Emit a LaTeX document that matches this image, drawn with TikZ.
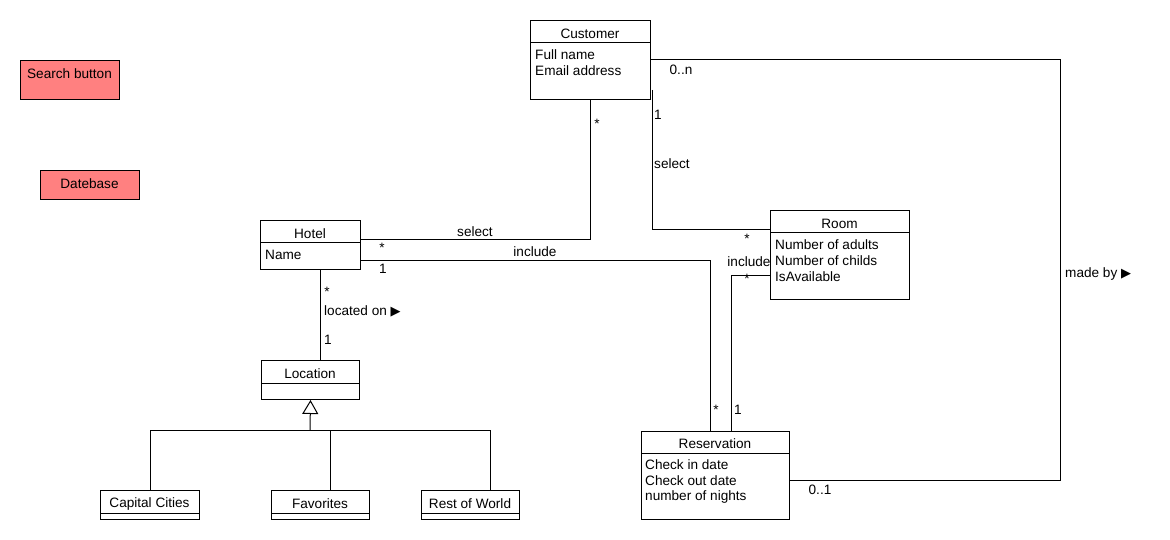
\documentclass[tikz,border=0pt]{standalone}
\usepackage{fontspec}
\setmainfont{Liberation Sans}
\newfontfamily\symf{DejaVu Sans}
\usetikzlibrary{arrows.meta,calc}
\definecolor{btnfill}{HTML}{FF8080}
\begin{document}
\begin{tikzpicture}[x=1pt,y=-1pt,
  every node/.style={font=\fontsize{13.6}{16}\selectfont, inner sep=0pt},
  cls/.style={draw, line width=1pt, anchor=north west, inner sep=0pt},
  btn/.style={draw, line width=1pt, fill=btnfill, anchor=north west, inner sep=0pt},
  attr/.style={anchor=west},
  conn/.style={line width=1pt},
  genarrow/.style={line width=1pt, -{Triangle[open,length=14pt,width=16pt]}}
]
\useasboundingbox (0,0) rectangle (1170,540);

% buttons
\node[btn, minimum width=99pt, minimum height=39pt] (search) at (20,60) {};
\node at (69.5,74) {Search button};
\node[btn, minimum width=99pt, minimum height=29pt] (db) at (40,170) {};
\node at (89.5,184) {Datebase};

% Customer
\node[cls, minimum width=120pt, minimum height=79pt] (cust) at (530,20) {};
\draw[line width=1pt] (530,43) -- (650,43);
\node at (590,34) {Customer};
\node[attr] at (535,55) {Full name};
\node[attr] at (535,71) {Email address};

% Hotel
\node[cls, minimum width=100pt, minimum height=49pt] (hotel) at (260,220) {};
\draw[line width=1pt] (260,243) -- (360,243);
\node at (310,234) {Hotel};
\node[attr] at (265,255) {Name};

% Room
\node[cls, minimum width=139pt, minimum height=89pt] (room) at (770,210) {};
\draw[line width=1pt] (770,233) -- (909,233);
\node at (839.5,224) {Room};
\node[attr] at (775,245) {Number of adults};
\node[attr] at (775,261) {Number of childs};
\node[attr] at (775,277) {IsAvailable};

% Reservation
\node[cls, minimum width=148pt, minimum height=88pt] (res) at (641,431) {};
\draw[line width=1pt] (641,453) -- (789,453);
\node at (715,444) {Reservation};
\node[attr] at (645,465) {Check in date};
\node[attr] at (645,481) {Check out date};
\node[attr] at (645,497) {number of nights};

% Location
\node[cls, minimum width=98pt, minimum height=39pt] (loc) at (261,360) {};
\draw[line width=1pt] (261,383) -- (359,383);
\node at (310,374) {Location};

% Subclasses
\node[cls, minimum width=99pt, minimum height=29pt] (cap) at (100,490) {};
\draw[line width=1pt] (100,513) -- (199,513);
\node at (149.5,504) {Capital Cities};
\node[cls, minimum width=98pt, minimum height=29pt] (fav) at (271,490) {};
\draw[line width=1pt] (271,513) -- (369,513);
\node at (320,504) {Favorites};
\node[cls, minimum width=98pt, minimum height=29pt] (rest) at (421,490) {};
\draw[line width=1pt] (421,513) -- (519,513);
\node at (470,504) {Rest of World};

% generalization
\coordinate (gen) at (310,430.5);
\draw[conn] ($(cap.north west)+(50,0)$) |- (gen) -| ($(rest.north west)+(69,0)$);
\draw[conn] ($(fav.north west)+(59,0)$) |- (gen);
\draw[genarrow] (gen) -- (loc.south);

% Customer - Hotel select
\draw[conn] ($(cust.south west)+(60,0)$) |- ($(hotel.north east)+(0,20)$);
\node at (475,232) {select};
\node at (597,124) {*};
\node at (382,248) {*};

% Hotel - Reservation include
\draw[conn] ($(hotel.north east)+(0,40)$) -| ($(res.north west)+(69,0)$);
\node at (535,252) {include};
\node at (383,269) {1};
\node at (716,410) {*};

% Hotel - Location
\draw[conn] ($(hotel.south west)+(60,0)$) -- ($(loc.north west)+(59,0)$);
\node at (327,292) {*};
\node[attr] at (324,311) {located on {\symf\fontsize{13}{15}\selectfont ▶}};
\node at (328,340) {1};

% Customer - Room select
\draw[conn] ($(cust.north east)+(1,70)$) |- ($(room.north west)+(0,20)$);
\node at (672,164) {select};
\node at (658,115) {1};
\node at (747,239) {*};

% Room - Reservation include
\draw[conn] ($(room.north west)+(0,65)$) -| ($(res.north west)+(90,0)$);
\node at (749,262) {include};
\node at (747,279) {*};
\node at (738,410) {1};

% Customer - Reservation made by
\draw[conn] ($(cust.north east)+(0,40)$) -| (1060,480) -- ($(res.north east)+(0,49)$);
\node at (681,70) {0..n};
\node[attr] at (1065,274) {made by {\symf\fontsize{13}{15}\selectfont ▶}};
\node at (820,490) {0..1};
\end{tikzpicture}
\end{document}
